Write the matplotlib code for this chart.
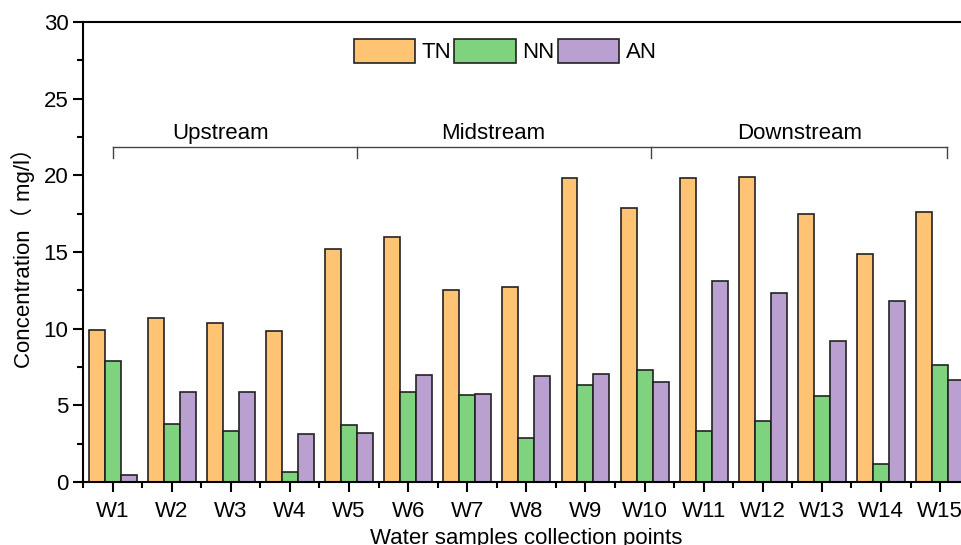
import numpy as np
import matplotlib.pyplot as plt
from matplotlib.ticker import MultipleLocator

sites = ['W1', 'W2', 'W3', 'W4', 'W5', 'W6', 'W7', 'W8', 'W9', 'W10',
         'W11', 'W12', 'W13', 'W14', 'W15']
tn = [9.9, 10.7, 10.4, 9.85, 15.2, 16.0, 12.5, 12.7, 19.8, 17.9,
      19.8, 19.9, 17.5, 14.9, 17.6]
nn = [7.9, 3.8, 3.35, 0.65, 3.7, 5.85, 5.65, 2.85, 6.3, 7.3,
      3.35, 4.0, 5.6, 1.2, 7.6]
an = [0.45, 5.85, 5.9, 3.15, 3.2, 7.0, 5.75, 6.9, 7.05, 6.55,
      13.1, 12.3, 9.2, 11.8, 6.65]
reaches = ['Upstream', 'Midstream', 'Downstream']
reach_edges = [1, 5.13, 10.11, 15.12]
reach_text_x = [2.83, 7.44, 12.63]

plt.rcParams['font.family'] = ['Liberation Sans', 'Noto Sans CJK SC', 'DejaVu Sans']

fig = plt.figure(figsize=(9.62, 5.45), dpi=100)
ax = fig.add_axes([0.0863, 0.1156, 0.9217, 0.844])

x = np.arange(1, len(sites) + 1)
w = 0.27
ec = '#222222'
ax.bar(x - w, tn, w, color='#FFC374', edgecolor=ec, linewidth=1.2, label='TN')
ax.bar(x, nn, w, color='#7FD37F', edgecolor=ec, linewidth=1.2, label='NN')
ax.bar(x + w, an, w, color='#B9A0D0', edgecolor=ec, linewidth=1.2, label='AN')

# reach brackets
yb, yt = 21.85, 21.1
ax.plot([reach_edges[0], reach_edges[-1]], [yb, yb], color='#444444', lw=1)
for e in reach_edges:
    ax.plot([e, e], [yb, yt], color='#444444', lw=1)
for name, tx in zip(reaches, reach_text_x):
    ax.text(tx, 22.75, name, ha='center', va='center', fontsize=16)

ax.set_xlim(0.5, 15.5)
ax.set_ylim(0, 30)
ax.set_xticks(x)
ax.set_xticklabels(sites)
ax.set_xticks(x - 0.5, minor=True)
ax.yaxis.set_major_locator(MultipleLocator(5))
ax.yaxis.set_minor_locator(MultipleLocator(2.5))
ax.tick_params(axis='both', which='major', direction='out', length=7, width=1.5,
               labelsize=16)
ax.tick_params(axis='x', which='major', pad=7)
ax.tick_params(axis='both', which='minor', direction='out', length=4, width=1.5)
for s in ax.spines.values():
    s.set_linewidth(1.5)

ax.set_ylabel('Concentration（ mg/l）', fontsize=16, labelpad=6)
ax.set_xlabel('Water samples collection points', fontsize=16, labelpad=4)

ax.legend(loc='upper center', bbox_to_anchor=(0.476, 1.0), ncol=3, frameon=False,
          fontsize=16, handlelength=2.75, handleheight=1.3, handletextpad=0.3,
          columnspacing=0.15, borderaxespad=0.35)

fig.savefig('out.png', dpi=100)
